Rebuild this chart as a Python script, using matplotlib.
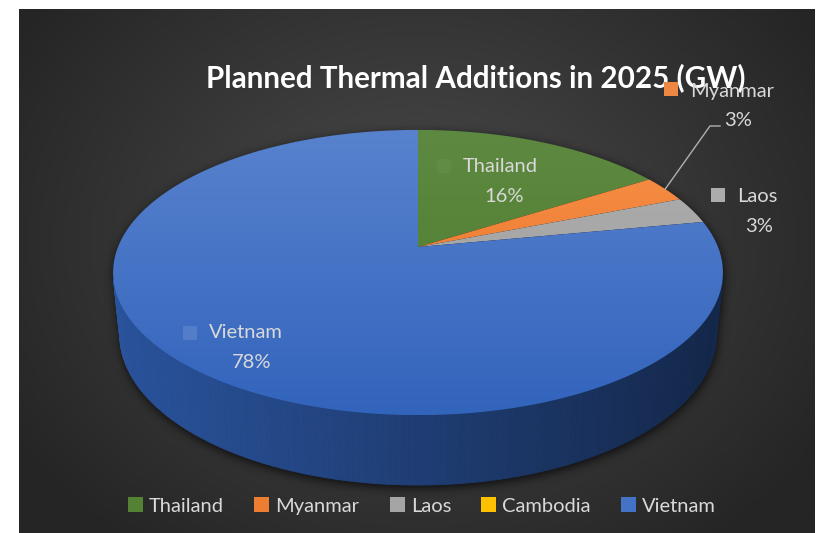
import numpy as np
import matplotlib.pyplot as plt
from matplotlib.colors import LinearSegmentedColormap, to_rgb, rgb_to_hsv, hsv_to_rgb
from matplotlib.patches import Polygon, Patch, Rectangle
from matplotlib.path import Path

countries = ['Thailand', 'Myanmar', 'Laos', 'Cambodia', 'Vietnam']
shares = [16, 3, 3, 0, 78]
colors = ['#548235', '#ED7D31', '#A5A5A5', '#FFC000', '#4472C4']

W, H = 818, 533
TXT = '#D9D9D9'
plt.rcParams['font.family'] = ['Lato', 'DejaVu Sans']

fig = plt.figure(figsize=(W / 100, H / 100), dpi=100)
fig.patch.set_facecolor('white')
ax = fig.add_axes([0, 0, 1, 1])
ax.axis('off')

# dark radial background of the chart area
bx0, bx1, by0, by1 = 19, 815, 9, 533
gx, gy = np.meshgrid(np.linspace(bx0, bx1, 400), np.linspace(by0, by1, 260))
rr = np.clip(np.sqrt(((gx - 418) / 480) ** 2 + ((gy - 240) / 390) ** 2), 0, 1)
bg_cmap = LinearSegmentedColormap.from_list('bg', ['#4b4b4b', '#252525'])
ax.imshow(rr, extent=(bx0, bx1, by1, by0), cmap=bg_cmap, vmin=0, vmax=1,
          aspect='auto', interpolation='bilinear', zorder=0)

# perspective camera for the 3-D pie
ca, sa = np.cos(np.radians(27.4)), np.sin(np.radians(27.4))
DIST, FOC, CX, CY, DEPTH = 4.96, 1488.0, 418.0, 247.0, 0.235


def project(X, Y, Z):
    yc = Z * ca + Y * sa
    zc = DIST + Y * ca - Z * sa
    return CX + FOC * X / zc, CY - FOC * yc / zc


def rim(phi, Z=0.0):
    # phi runs clockwise from the far (12 o'clock) point
    return project(np.sin(phi), np.cos(phi), Z)


def mix(c1, c2, t):
    c1, c2 = np.array(to_rgb(c1)), np.array(to_rgb(c2))
    return tuple(c1 + (c2 - c1) * t)


def tone(col, sat, val):
    h, s, v = rgb_to_hsv(np.array(to_rgb(col)))
    return tuple(hsv_to_rgb([h, min(1, s * sat), min(1, v * val)]))


fracs = np.array(shares, dtype=float) / sum(shares)
edges = np.concatenate([[0], np.cumsum(fracs)]) * 2 * np.pi

# soft shadow under the pie
px, py = np.meshgrid(np.arange(W) + 0.5, np.arange(H) + 0.5)
pts = np.column_stack([px.ravel(), py.ravel()])
full = np.linspace(0, 2 * np.pi, 181)
mask = np.zeros(len(pts), dtype=bool)
for z in np.linspace(0, -DEPTH, 12):
    sx, sy = rim(full, z)
    mask |= Path(np.column_stack([sx, sy])).contains_points(pts)
mask = mask.reshape(H, W).astype(float)
kern = np.exp(-0.5 * (np.arange(-15, 16) / 5.0) ** 2)
kern /= kern.sum()
blur = np.apply_along_axis(lambda v: np.convolve(v, kern, mode='same'), 0, mask)
blur = np.apply_along_axis(lambda v: np.convolve(v, kern, mode='same'), 1, blur)
shadow = np.zeros((H, W, 4))
shadow[..., 3] = blur * 0.75
ax.imshow(shadow, extent=(1, W + 1, H + 3, 3), aspect='auto', zorder=1)

# side wall, only the part that faces the camera
for i, col in enumerate(colors):
    a0, a1 = edges[i], edges[i + 1]
    if a1 - a0 <= 0:
        continue
    steps = np.linspace(a0, a1, max(2, int(np.degrees(a1 - a0)) + 1))
    for p0, p1 in zip(steps[:-1], steps[1:]):
        pm = 0.5 * (p0 + p1)
        if np.cos(pm) > -1 / (DIST * ca):
            continue
        tx0, ty0 = rim(p0)
        tx1, ty1 = rim(p1)
        bx0_, by0_ = rim(p0, -DEPTH)
        bx1_, by1_ = rim(p1, -DEPTH)
        t = np.clip((0.5 * (tx0 + tx1) - 113) / 610, 0, 1)
        shade = tone(col, 1.12, 0.80 - 0.42 * t)
        ax.add_patch(Polygon([(tx0, ty0), (tx1, ty1), (bx1_, by1_), (bx0_, by0_)],
                             closed=True, facecolor=shade, edgecolor=shade,
                             linewidth=0.6, zorder=2))

# top face: each slice filled with a back-to-front gradient
ax_y0, ax_y1 = rim(0)[1], rim(np.pi)[1]
grad = np.linspace(0, 1, 256).reshape(-1, 1)
apex = project(0, 0, 0)
for i, col in enumerate(colors):
    a0, a1 = edges[i], edges[i + 1]
    if a1 - a0 <= 0:
        continue
    arc = np.linspace(a0, a1, max(2, int(np.degrees(a1 - a0) * 2) + 1))
    sx, sy = rim(arc)
    verts = [apex] + list(zip(sx, sy))
    poly = Polygon(verts, closed=True, facecolor='none', edgecolor='none')
    ax.add_patch(poly)
    cm = LinearSegmentedColormap.from_list(
        'top%d' % i, [tone(col, 0.88, 1.05), tone(col, 1.12, 0.96)])
    im = ax.imshow(grad, extent=(100, 740, ax_y1, ax_y0), cmap=cm, vmin=0, vmax=1,
                   aspect='auto', interpolation='bilinear', zorder=3)
    im.set_clip_path(poly)


# data labels with small colour keys
def data_label(name, pct, key_x, key_y, text_y, pct_x, pct_y, col):
    ax.add_patch(Rectangle((key_x, key_y), 14, 14, facecolor=mix(col, 'white', 0.08),
                           edgecolor='none', zorder=5))
    ax.text(key_x + 26, text_y, name, color=TXT, fontsize=14.5, ha='left', va='center', zorder=6)
    ax.text(pct_x, pct_y, '%d%%' % pct, color=TXT, fontsize=14.5, ha='center', va='center', zorder=6)


data_label(countries[0], shares[0], 437, 159, 167, 504, 197, colors[0])
data_label(countries[1], shares[1], 664, 82, 91, 738, 120, colors[1])
data_label(countries[2], shares[2], 711, 188, 197, 759, 226, colors[2])
data_label(countries[4], shares[4], 183, 326, 333, 252, 363, colors[4])

# leader line from the Myanmar label to its slice
mid = 0.5 * (edges[1] + edges[2])
lx, ly = rim(mid)
ax.plot([lx, 710, 720], [ly, 126, 126], color='#B0B0B0', linewidth=1.0, zorder=5)

ax.text(476, 78, 'Planned Thermal Additions in 2025 (GW)', color='white',
        fontsize=21.3, fontweight='bold', ha='center', va='center', zorder=4)

handles = [Patch(facecolor=c, edgecolor='none') for c in colors]
ax.legend(handles, countries, loc='center', bbox_to_anchor=(422 / W, 1 - 506 / H),
          ncol=5, frameon=False, fontsize=14.5, labelcolor=TXT,
          handlelength=0.75, handleheight=0.75, handletextpad=0.3,
          columnspacing=1.5, borderpad=0)

ax.set_xlim(0, W)
ax.set_ylim(H, 0)
fig.savefig('out.png', dpi=100, facecolor='white')
